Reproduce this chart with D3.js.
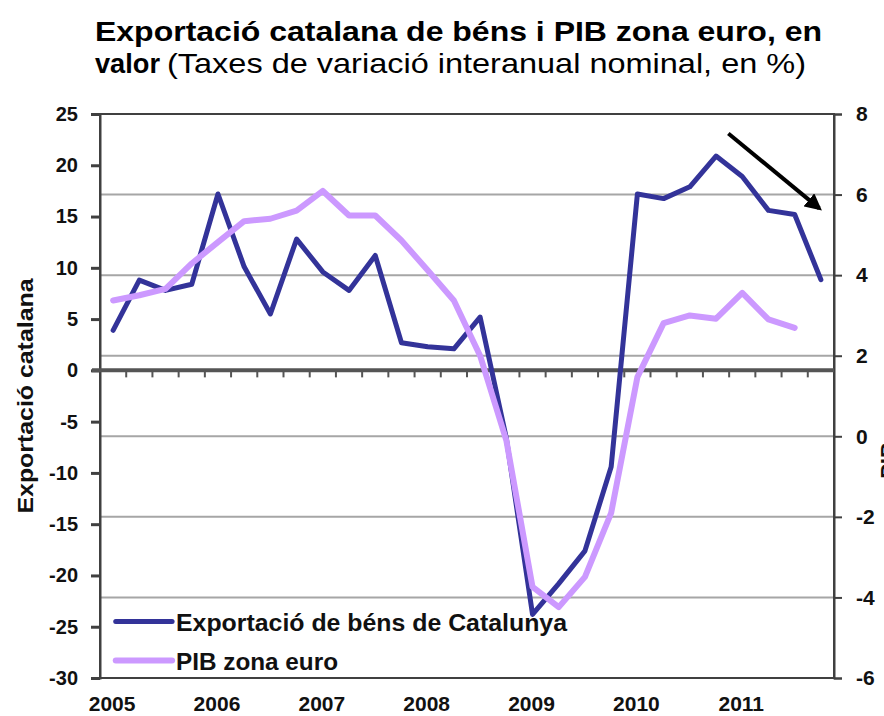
<!DOCTYPE html>
<html>
<head>
<meta charset="utf-8">
<script src="https://cdn.jsdelivr.net/npm/d3@7"></script>
<style>
  html, body { margin: 0; padding: 0; background: #fff; }
  svg { display: block; }
  text { font-family: "Liberation Sans", Arial, sans-serif; }
</style>
</head>
<body>
<svg id="chart" width="884" height="716"></svg>
<script>
// ---- data ----
const quarters = d3.range(28).map(i => (2005 + Math.floor(i / 4)) + "T" + (i % 4 + 1));
const yearLabels = ["2005", "2006", "2007", "2008", "2009", "2010", "2011"];
const exportValues = [3.9, 8.8, 7.8, 8.4, 17.2, 10.1, 5.5, 12.8, 9.6, 7.8, 11.2, 2.7, 2.3, 2.1,
                      5.2, -6.6, -23.8, -20.8, -17.6, -9.4, 17.2, 16.75, 17.9, 20.9, 18.9, 15.6, 15.2, 8.85];
const pibValues = [3.37, 3.5, 3.66, 4.29, 4.82, 5.34, 5.4, 5.6, 6.09, 5.48, 5.48, 4.86, 4.12, 3.37,
                   2.0, -0.1, -3.74, -4.24, -3.49, -1.9, 1.47, 2.81, 3.0, 2.92, 3.56, 2.9, 2.69, null];
const leftTicks = [25, 20, 15, 10, 5, 0, -5, -10, -15, -20, -25, -30];
const rightTicks = [8, 6, 4, 2, 0, -2, -4, -6];
const seriesNames = ["Exportació de béns de Catalunya", "PIB zona euro"];
const arrowPoints = [{q: 23.97, v: 23.1}, {q: 27.44, v: 15.8}];

// ---- layout ----
const svg = d3.select("#chart");
const L = 100, R = 834, T = 114, B = 678;
const BLUE = "#333399", PURPLE = "#cc99ff";
const plainFmt = d => String(d);

const x = d3.scaleBand().domain(d3.range(quarters.length)).range([L, R]).paddingInner(0).paddingOuter(0);
const xq = d3.scaleLinear().domain([0, quarters.length]).range([L, R]);
const yL = d3.scaleLinear().domain([-30, 25]).range([B, T]);
const yR = d3.scaleLinear().domain([-6, 8]).range([B, T]);

// title
const title = svg.append("g");
title.append("text").attr("x", 95).attr("y", 41)
  .attr("font-size", 28).attr("font-weight", "bold").attr("fill", "#000")
  .attr("textLength", 727).attr("lengthAdjust", "spacingAndGlyphs")
  .text("Exportació catalana de béns i PIB zona euro, en");
title.append("text").attr("x", 95).attr("y", 73)
  .attr("font-size", 28).attr("font-weight", "bold").attr("fill", "#000")
  .attr("textLength", 65).attr("lengthAdjust", "spacingAndGlyphs")
  .text("valor");
title.append("text").attr("x", 167).attr("y", 73)
  .attr("font-size", 28).attr("fill", "#000")
  .attr("textLength", 639).attr("lengthAdjust", "spacingAndGlyphs")
  .text("(Taxes de variació interanual nominal, en %)");

// gridlines (right axis)
svg.append("g").selectAll("line").data(rightTicks.filter(d => d > -6 && d < 8)).join("line")
  .attr("x1", L).attr("x2", R).attr("y1", d => yR(d)).attr("y2", d => yR(d))
  .attr("stroke", "#a6a6a6").attr("stroke-width", 2);

// frame
svg.append("rect").attr("x", L).attr("y", T).attr("width", R - L).attr("height", B - T)
  .attr("fill", "none").attr("stroke", "#404040").attr("stroke-width", 2);

// left axis
const gl = svg.append("g").attr("transform", `translate(${L},0)`)
  .call(d3.axisLeft(yL).tickValues(leftTicks).tickSize(9).tickPadding(13).tickFormat(plainFmt));
gl.select(".domain").attr("stroke", "#404040").attr("stroke-width", 2);
gl.selectAll(".tick line").attr("stroke", "#404040").attr("stroke-width", 3);
gl.selectAll(".tick text").attr("font-size", 20).attr("font-weight", "bold").attr("fill", "#111")
  .attr("font-family", "Liberation Sans, Arial, sans-serif");

// right axis
const gr = svg.append("g").attr("transform", `translate(${R},0)`)
  .call(d3.axisRight(yR).tickValues(rightTicks).tickSize(8).tickPadding(14).tickFormat(plainFmt));
gr.select(".domain").attr("stroke", "#404040").attr("stroke-width", 2);
gr.selectAll(".tick line").attr("stroke", "#404040").attr("stroke-width", 2);
gr.selectAll(".tick text").attr("font-size", 21).attr("font-weight", "bold").attr("fill", "#111")
  .attr("font-family", "Liberation Sans, Arial, sans-serif");

// zero category axis with ticks between quarters
const gx = svg.append("g").attr("transform", `translate(0,${yL(0)})`);
gx.append("line").attr("x1", L - 8).attr("x2", R).attr("y1", 0).attr("y2", 0)
  .attr("stroke", "#555").attr("stroke-width", 4);
gx.selectAll("line.tk").data(d3.range(1, quarters.length)).join("line").attr("class", "tk")
  .attr("x1", d => xq(d)).attr("x2", d => xq(d)).attr("y1", 0).attr("y2", 7)
  .attr("stroke", "#555").attr("stroke-width", 2);

// year labels at bottom
svg.append("g").selectAll("text").data(yearLabels).join("text")
  .attr("x", (d, i) => x(i * 4) + x.bandwidth() / 2 - 1)
  .attr("y", 711).attr("text-anchor", "middle")
  .attr("font-size", 21).attr("font-weight", "bold").attr("fill", "#111")
  .text(d => d);

// axis titles
svg.append("text").attr("transform", `translate(33,${yL(-2.5)}) rotate(-90)`)
  .attr("text-anchor", "middle").attr("font-size", 22).attr("font-weight", "bold").attr("fill", "#111")
  .attr("textLength", 235).attr("lengthAdjust", "spacingAndGlyphs")
  .text("Exportació catalana");
svg.append("text").attr("transform", `translate(896,${yR(-0.6)}) rotate(-90)`)
  .attr("text-anchor", "middle").attr("font-size", 22).attr("font-weight", "bold").attr("fill", "#111")
  .text("PIB");

// lines
const lineL = d3.line().defined(d => d != null)
  .x((d, i) => x(i) + x.bandwidth() / 2).y(d => yL(d));
const lineR = d3.line().defined(d => d != null)
  .x((d, i) => x(i) + x.bandwidth() / 2).y(d => yR(d));

svg.append("path").datum(exportValues).attr("d", lineL)
  .attr("fill", "none").attr("stroke", BLUE).attr("stroke-width", 5)
  .attr("stroke-linejoin", "round").attr("stroke-linecap", "round");
svg.append("path").datum(pibValues).attr("d", lineR)
  .attr("fill", "none").attr("stroke", PURPLE).attr("stroke-width", 6)
  .attr("stroke-linejoin", "round").attr("stroke-linecap", "round");

// legend
const lg = svg.append("g");
const legendY = [yL(-24.5), yL(-28.3)];
[BLUE, PURPLE].forEach((c, i) => {
  lg.append("line").attr("x1", xq(0.6)).attr("x2", xq(2.75))
    .attr("y1", legendY[i]).attr("y2", legendY[i])
    .attr("stroke", c).attr("stroke-width", i === 0 ? 5 : 6).attr("stroke-linecap", "round");
});
lg.append("text").attr("x", 176).attr("y", legendY[0] + 9.5)
  .attr("font-size", 23).attr("font-weight", "bold").attr("fill", "#111")
  .attr("textLength", 391).attr("lengthAdjust", "spacingAndGlyphs")
  .text(seriesNames[0]);
lg.append("text").attr("x", 176).attr("y", legendY[1] + 9.5)
  .attr("font-size", 23).attr("font-weight", "bold").attr("fill", "#111")
  .attr("textLength", 162).attr("lengthAdjust", "spacingAndGlyphs")
  .text(seriesNames[1]);

// arrow annotation
svg.append("defs").append("marker").attr("id", "ah")
  .attr("viewBox", "0 0 10 10").attr("refX", 8).attr("refY", 5)
  .attr("markerWidth", 4.2).attr("markerHeight", 4.2).attr("orient", "auto")
  .append("path").attr("d", "M0,0 L10,5 L0,10 Z").attr("fill", "#000");
svg.append("line")
  .attr("x1", xq(arrowPoints[0].q)).attr("y1", yL(arrowPoints[0].v))
  .attr("x2", xq(arrowPoints[1].q)).attr("y2", yL(arrowPoints[1].v))
  .attr("stroke", "#000").attr("stroke-width", 4).attr("marker-end", "url(#ah)");
</script>
</body>
</html>
